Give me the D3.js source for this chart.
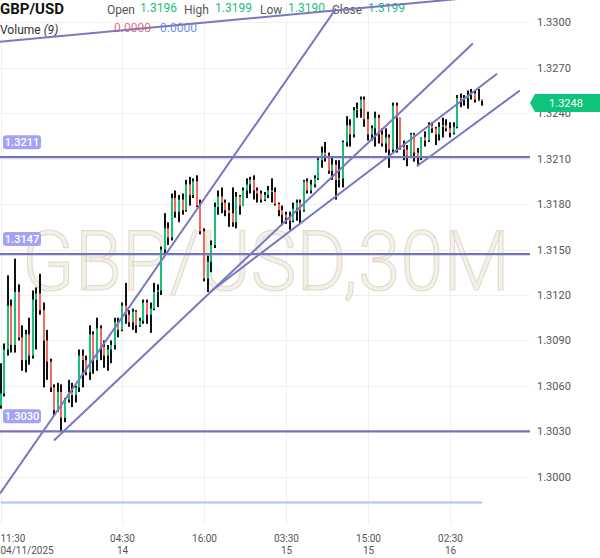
<!DOCTYPE html>
<html>
<head>
<meta charset="utf-8">
<script src="https://cdn.jsdelivr.net/npm/d3@7"></script>
<style>
  body { margin: 0; background: #fff; }
  svg { display: block; font-family: Roboto, "Noto Sans", sans-serif; }
</style>
</head>
<body>
<svg id="chart" width="600" height="558"></svg>
<script>
// GBP/USD 30M candles, one entry per bar (bar 0 = first visible bar)
const opens = [
  1.3047,1.3055,1.3084,1.3113,1.3087,1.3122,1.3092,1.3077,1.3094,1.3080,
  1.3117,1.3121,1.3110,1.3090,1.3076,1.3059,1.3044,1.3056,1.3039,1.3051,
  1.3056,1.3054,1.3059,1.3080,1.3077,1.3069,1.3094,1.3077,1.3098,1.3086,
  1.3080,1.3084,1.3087,1.3102,1.3097,1.3113,1.3107,1.3102,1.3109,1.3100,
  1.3103,1.3115,1.3107,1.3111,1.3122,1.3123,1.3150,1.3164,1.3158,1.3184,
  1.3175,1.3183,1.3176,1.3193,1.3186,1.3195,1.3179,1.3162,1.3131,1.3142,
  1.3153,1.3178,1.3185,1.3181,1.3176,1.3174,1.3168,1.3185,1.3179,1.3189,
  1.3193,1.3196,1.3189,1.3187,1.3183,1.3186,1.3189,1.3188,1.3180,1.3176,
  1.3173,1.3171,1.3169,1.3177,1.3181,1.3176,1.3195,1.3189,1.3193,1.3197,
  1.3209,1.3214,1.3212,1.3202,1.3206,1.3196,1.3197,1.3221,1.3232,1.3226,
  1.3242,1.3243,1.3249,1.3236,1.3226,1.3230,1.3237,1.3226,1.3220,1.3224,
  1.3216,1.3245,1.3237,1.3218,1.3216,1.3212,1.3226,1.3214,1.3211,1.3224,
  1.3222,1.3232,1.3230,1.3226,1.3231,1.3232,1.3230,1.3227,1.3231,1.3250,
  1.3249,1.3250,1.3252,1.3253,1.3249,1.3249
];
const highs = [
  1.3075,1.3088,1.3133,1.3117,1.3144,1.3127,1.3100,1.3097,1.3105,1.3123,
  1.3125,1.3134,1.3115,1.3097,1.3078,1.3061,1.3062,1.3061,1.3052,1.3064,
  1.3062,1.3060,1.3084,1.3084,1.3080,1.3100,1.3096,1.3105,1.3100,1.3090,
  1.3087,1.3090,1.3105,1.3105,1.3115,1.3128,1.3110,1.3111,1.3110,1.3105,
  1.3117,1.3117,1.3115,1.3128,1.3127,1.3152,1.3174,1.3168,1.3187,1.3189,
  1.3186,1.3187,1.3196,1.3198,1.3197,1.3199,1.3183,1.3164,1.3146,1.3156,
  1.3181,1.3189,1.3191,1.3183,1.3181,1.3191,1.3188,1.3186,1.3191,1.3197,
  1.3198,1.3199,1.3191,1.3189,1.3188,1.3192,1.3197,1.3191,1.3181,1.3179,
  1.3175,1.3175,1.3181,1.3183,1.3183,1.3196,1.3197,1.3196,1.3199,1.3211,
  1.3218,1.3221,1.3214,1.3211,1.3209,1.3209,1.3222,1.3238,1.3236,1.3244,
  1.3247,1.3251,1.3251,1.3241,1.3232,1.3241,1.3239,1.3230,1.3230,1.3226,
  1.3247,1.3247,1.3237,1.3222,1.3219,1.3227,1.3227,1.3217,1.3224,1.3228,
  1.3234,1.3234,1.3231,1.3234,1.3237,1.3236,1.3234,1.3234,1.3252,1.3253,
  1.3252,1.3255,1.3256,1.3255,1.3256,1.3249
];
const lows = [
  1.3045,1.3053,1.3080,1.3082,1.3082,1.3090,1.3070,1.3069,1.3074,1.3078,
  1.3084,1.3107,1.3059,1.3064,1.3056,1.3040,1.3043,1.3030,1.3036,1.3049,
  1.3046,1.3049,1.3056,1.3059,1.3067,1.3064,1.3068,1.3070,1.3077,1.3072,
  1.3070,1.3075,1.3084,1.3092,1.3096,1.3101,1.3099,1.3097,1.3095,1.3099,
  1.3101,1.3101,1.3095,1.3110,1.3112,1.3120,1.3146,1.3153,1.3156,1.3171,
  1.3168,1.3173,1.3175,1.3179,1.3184,1.3178,1.3160,1.3129,1.3122,1.3135,
  1.3151,1.3173,1.3174,1.3172,1.3165,1.3165,1.3164,1.3173,1.3179,1.3184,
  1.3187,1.3183,1.3181,1.3181,1.3182,1.3184,1.3181,1.3179,1.3172,1.3166,
  1.3167,1.3163,1.3168,1.3169,1.3167,1.3175,1.3187,1.3187,1.3191,1.3196,
  1.3204,1.3208,1.3200,1.3196,1.3183,1.3191,1.3191,1.3218,1.3218,1.3224,
  1.3237,1.3237,1.3231,1.3222,1.3222,1.3218,1.3220,1.3218,1.3214,1.3204,
  1.3214,1.3214,1.3216,1.3209,1.3205,1.3211,1.3208,1.3206,1.3209,1.3218,
  1.3221,1.3227,1.3219,1.3222,1.3224,1.3228,1.3224,1.3226,1.3230,1.3244,
  1.3245,1.3243,1.3249,1.3247,1.3248,1.3245
];
const closes = [
  1.3055,1.3084,1.3113,1.3087,1.3122,1.3092,1.3077,1.3094,1.3080,1.3117,
  1.3121,1.3110,1.3090,1.3076,1.3059,1.3044,1.3056,1.3039,1.3051,1.3056,
  1.3054,1.3059,1.3080,1.3077,1.3069,1.3094,1.3077,1.3098,1.3086,1.3080,
  1.3084,1.3087,1.3102,1.3097,1.3113,1.3107,1.3102,1.3109,1.3100,1.3103,
  1.3115,1.3107,1.3111,1.3122,1.3123,1.3150,1.3164,1.3158,1.3184,1.3175,
  1.3183,1.3176,1.3193,1.3186,1.3195,1.3179,1.3162,1.3131,1.3142,1.3153,
  1.3178,1.3185,1.3181,1.3176,1.3174,1.3168,1.3185,1.3179,1.3189,1.3193,
  1.3196,1.3189,1.3187,1.3183,1.3186,1.3189,1.3188,1.3180,1.3176,1.3173,
  1.3171,1.3169,1.3177,1.3181,1.3176,1.3195,1.3189,1.3193,1.3197,1.3209,
  1.3214,1.3212,1.3202,1.3206,1.3196,1.3197,1.3221,1.3232,1.3226,1.3242,
  1.3243,1.3249,1.3236,1.3226,1.3230,1.3237,1.3226,1.3220,1.3224,1.3216,
  1.3245,1.3237,1.3218,1.3216,1.3212,1.3226,1.3214,1.3211,1.3224,1.3222,
  1.3232,1.3230,1.3226,1.3231,1.3232,1.3230,1.3227,1.3231,1.3250,1.3249,
  1.3250,1.3252,1.3253,1.3249,1.3249,1.3248
];

// axis ticks
const priceTicks = [1.3000, 1.3030, 1.3060, 1.3090, 1.3120, 1.3150, 1.3180, 1.3210, 1.3240, 1.3270, 1.3300];
const timeTickBars = [0, 34, 57, 80, 103, 126];
const timeTickTimes = ["11:30", "04:30", "16:00", "03:30", "15:00", "02:30"];
const timeTickDates = ["04/11/2025", "14", "", "15", "15", "16"];

// drawings on the chart
const levelPrices = [1.3211, 1.3147, 1.3030];
const bottomLine = [[0, 1.2983], [135, 1.2983]];
const trendLines = [
  [[-1, 1.3287], [131, 1.3316]],
  [[-0.2, 1.2989], [94, 1.3309]],
  [[14.9, 1.3024], [132.4, 1.3286]],
  [[58.7, 1.3122], [139.2, 1.3266]],
  [[116.7, 1.3205], [145.6, 1.3255]]
];
const lastPrice = 1.3248;

const svg = d3.select("#chart"),
  plotW = 530,
  plotH = 525;

const x = d3.scaleLinear().domain([0, 135]).range([0.8, 482.1]);
const y = d3.scaleLinear().domain([1.3000, 1.3300]).range([476.8, 22.3]);

const green = "#19c07b", red = "#f26b5e", lineCol = "#7474bb";

svg.append("defs").append("clipPath").attr("id", "plot-clip")
  .append("rect").attr("x", 0).attr("y", 0).attr("width", plotW).attr("height", plotH);

// grid
const grid = svg.append("g").attr("class", "grid");
grid.selectAll("line.h")
  .data(priceTicks)
  .join("line")
  .attr("class", "h")
  .attr("x1", 0).attr("x2", plotW)
  .attr("y1", d => Math.round(y(d)) + 0.5)
  .attr("y2", d => Math.round(y(d)) + 0.5)
  .attr("stroke", "#f0f0f0");
grid.selectAll("line.v")
  .data(timeTickBars)
  .join("line")
  .attr("class", "v")
  .attr("x1", d => Math.round(x(d)) + 0.5)
  .attr("x2", d => Math.round(x(d)) + 0.5)
  .attr("y1", 0).attr("y2", plotH)
  .attr("stroke", "#f0f0f0");

// watermark, squeezed to the width it has in the original
const mark = svg.append("text")
  .attr("font-size", 84)
  .attr("font-weight", 300)
  .attr("fill", "#f4f1ea")
  .attr("stroke", "#e3dccb")
  .attr("stroke-width", 1.2)
  .text("GBP/USD,30M");
const markW = mark.node().getComputedTextLength();
mark.attr("transform", `translate(22,290) scale(${488 / markW},1)`);

// header
const head = svg.append("g").attr("font-size", 12);
head.append("text").attr("x", 0).attr("y", 14).attr("font-size", 15).attr("font-weight", 700)
  .attr("fill", "#111").text("GBP/USD");
const ohlc = [
  ["Open", 107, "1.3196", 140],
  ["High", 184, "1.3199", 215],
  ["Low", 260, "1.3190", 288],
  ["Close", 332, "1.3199", 368]
];
ohlc.forEach(([lab, lx, val, vx]) => {
  head.append("text").attr("x", lx).attr("y", 14).attr("fill", "#555").text(lab);
  head.append("text").attr("x", vx).attr("y", 12).attr("fill", green).text(val);
});
const vol = head.append("text").attr("x", 0).attr("y", 34).attr("fill", "#333");
vol.append("tspan").text("Volume ");
vol.append("tspan").attr("font-style", "italic").text("(9)");
head.append("text").attr("x", 114).attr("y", 32).attr("fill", "#ef7070").text("0.0000");
head.append("text").attr("x", 160).attr("y", 32).attr("fill", "#6b96ee").text("0.0000");

// candles
const candleG = svg.append("g").attr("class", "candles").attr("clip-path", "url(#plot-clip)");
const bars = candleG.selectAll("g")
  .data(d3.range(opens.length))
  .join("g");
bars.append("rect")
  .attr("x", i => Math.round(x(i)) - 1)
  .attr("y", i => y(highs[i]))
  .attr("width", 2)
  .attr("height", i => Math.max(1, y(lows[i]) - y(highs[i])))
  .attr("fill", "#111");
bars.append("rect")
  .attr("x", i => Math.round(x(i)) - 1)
  .attr("y", i => y(Math.max(opens[i], closes[i])))
  .attr("width", 2)
  .attr("height", i => Math.max(1, Math.abs(y(opens[i]) - y(closes[i]))))
  .attr("fill", i => closes[i] >= opens[i] ? green : red);

// drawings
const draw = svg.append("g").attr("clip-path", "url(#plot-clip)");
draw.selectAll("line.level")
  .data(levelPrices)
  .join("line")
  .attr("class", "level")
  .attr("x1", 0).attr("x2", plotW)
  .attr("y1", d => y(d)).attr("y2", d => y(d))
  .attr("stroke", lineCol)
  .attr("stroke-width", 2.2);
draw.append("line")
  .attr("x1", x(bottomLine[0][0])).attr("x2", x(bottomLine[1][0]))
  .attr("y1", y(bottomLine[0][1])).attr("y2", y(bottomLine[1][1]))
  .attr("stroke", "#a6c6f2")
  .attr("stroke-width", 2);
draw.selectAll("line.trend")
  .data(trendLines)
  .join("line")
  .attr("class", "trend")
  .attr("x1", d => x(d[0][0])).attr("y1", d => y(d[0][1]))
  .attr("x2", d => x(d[1][0])).attr("y2", d => y(d[1][1]))
  .attr("stroke", "#7878c2")
  .attr("stroke-width", 2);

// level labels
const tags = svg.append("g").selectAll("g")
  .data(levelPrices)
  .join("g")
  .attr("transform", d => `translate(3,${y(d) - 22})`);
tags.append("rect")
  .attr("width", 38).attr("height", 14).attr("rx", 3)
  .attr("fill", "#a3a3f6");
tags.append("text")
  .attr("x", 19).attr("y", 11)
  .attr("text-anchor", "middle")
  .attr("font-size", 11)
  .attr("font-weight", 500)
  .attr("fill", "#fff")
  .text(d => d.toFixed(4));

// price axis
const yAxis = d3.axisRight(y)
  .tickValues(priceTicks)
  .tickFormat(d3.format(".4f"))
  .tickSize(0)
  .tickPadding(0);
svg.append("g")
  .attr("transform", "translate(537,0)")
  .call(yAxis)
  .call(g => g.select(".domain").remove())
  .call(g => g.selectAll("text").attr("fill", "#555").attr("font-size", 11).attr("font-family", "Roboto, sans-serif"));

// time axis
const xAxis = d3.axisBottom(x)
  .tickValues(timeTickBars)
  .tickSize(0)
  .tickFormat((d, i) => timeTickTimes[i]);
const gx = svg.append("g")
  .attr("transform", "translate(0,533)")
  .call(xAxis);
gx.select(".domain").remove();
gx.selectAll(".tick text").each(function (d, i) {
  const t = d3.select(this)
    .text(null)
    .attr("y", 0).attr("dy", null)
    .attr("fill", "#555")
    .attr("font-size", 10)
    .attr("font-family", "Roboto, sans-serif");
  const ox = i === 0 ? -x(d) : 0;
  if (i === 0) t.attr("text-anchor", "start");
  t.append("tspan").attr("x", ox).attr("y", 9).text(timeTickTimes[i]);
  t.append("tspan").attr("x", ox).attr("y", 20.5).text(timeTickDates[i]);
});

// last price tag
const ty = y(lastPrice) + 2;
svg.append("path")
  .attr("d", `M530,${ty} L535,${ty - 9} L600,${ty - 9} L600,${ty + 9} L535,${ty + 9} Z`)
  .attr("fill", "#0dc47a");
svg.append("text")
  .attr("x", 566).attr("y", ty + 4)
  .attr("text-anchor", "middle")
  .attr("font-size", 11)
  .attr("fill", "#fff")
  .text(lastPrice.toFixed(4));
</script>
</body>
</html>
